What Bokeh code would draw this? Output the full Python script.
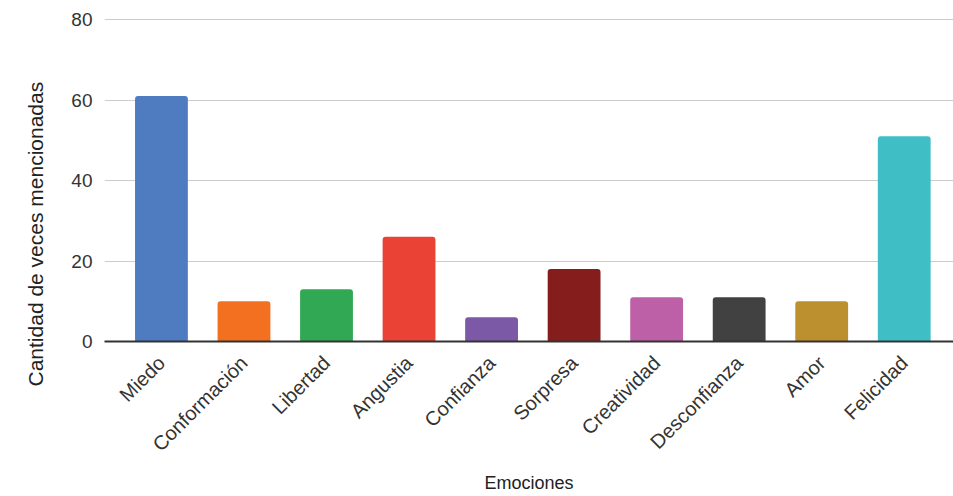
from bokeh.plotting import figure
from bokeh.models import ColumnDataSource, Range1d, FixedTicker, Title
from bokeh.embed import file_html
from bokeh.resources import INLINE
import math

categories = ["Miedo", "Conformación", "Libertad", "Angustia", "Confianza",
              "Sorpresa", "Creatividad", "Desconfianza", "Amor", "Felicidad"]
values = [61, 10, 13, 26, 6, 18, 11, 11, 10, 51]
colors = ["#4f7cc1", "#f37021", "#31a853", "#ea4335", "#7b59a6",
          "#841d1b", "#bd60a7", "#414141", "#bc8f2f", "#40bec6"]
y_ticks = [0, 20, 40, 60, 80]
y_title = "Cantidad de veces mencionadas"
x_title = "Emociones"

idx = list(range(len(categories)))
src = ColumnDataSource(dict(x=idx, top=values, color=colors, name=categories))

p = figure(width=953, height=496, output_backend="svg", toolbar_location=None,
           x_range=Range1d(-0.69, len(categories) - 0.403), y_range=Range1d(0, 80.5))
p.min_border_left = 103
p.min_border_right = 0
p.min_border_top = 17
p.min_border_bottom = 155
p.outline_line_color = None
p.background_fill_color = "white"
p.border_fill_color = "white"

p.vbar(x="x", top="top", width=0.64, bottom=0, color="color", source=src,
       line_color=None, border_radius=(3, 3, 0, 0))

font = "Liberation Sans"
p.xaxis.ticker = FixedTicker(ticks=idx)
p.xaxis.major_label_overrides = {i: c for i, c in zip(idx, categories)}
p.xaxis.major_label_orientation = math.pi / 4
p.xaxis.major_label_text_font = font
p.xaxis.major_label_text_font_size = "20px"
p.xaxis.major_label_text_color = "#333333"
p.xaxis.major_tick_line_color = None
p.xaxis.minor_tick_line_color = None
p.xaxis.axis_line_color = "#333333"
p.xaxis.axis_line_width = 2
p.xaxis.major_label_standoff = 12
p.xaxis.axis_label = x_title
p.xaxis.axis_label_text_font = font
p.xaxis.axis_label_text_font_style = "normal"
p.xaxis.axis_label_text_font_size = "18px"
p.xaxis.axis_label_text_color = "#222222"
p.xaxis.axis_label_standoff = 7
p.xgrid.grid_line_color = None

p.yaxis.ticker = FixedTicker(ticks=y_ticks)
p.yaxis.major_label_text_font = font
p.yaxis.major_label_text_font_size = "19px"
p.yaxis.major_label_text_color = "#333333"
p.yaxis.major_tick_line_color = None
p.yaxis.minor_tick_line_color = None
p.yaxis.axis_line_color = None
p.yaxis.major_label_standoff = 6
p.ygrid.grid_line_color = "#cccccc"
p.ygrid.grid_line_width = 1

yt = Title(text=y_title, align="left", offset=-45, standoff=43,
           text_font=font, text_font_style="normal", text_font_size="21px",
           text_color="#222222")
p.add_layout(yt, "left")

open("out.html", "w").write(file_html(p, INLINE))
